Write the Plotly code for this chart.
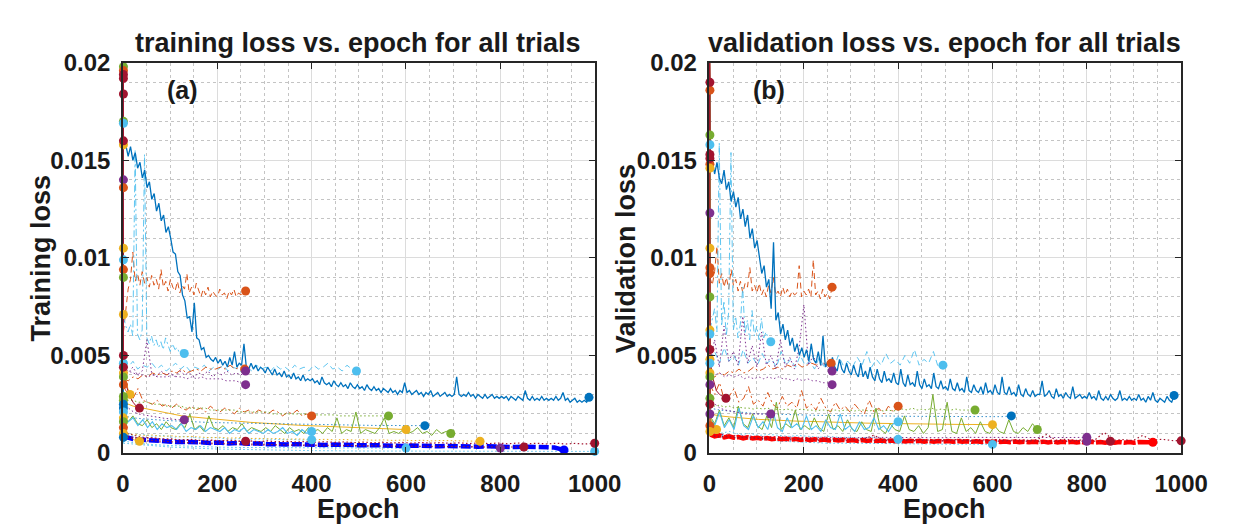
import numpy as np
import plotly.graph_objects as go

W, H = 1241, 532
BLUE, ORANGE, YELLOW, PURPLE = "#0072BD", "#D95319", "#EDB120", "#7E2F8E"
GREEN, CYAN, DRED = "#77AC30", "#4DBEEE", "#A2142F"
PBLUE, PRED = "#0000FF", "#FF0000"

UNIT = 1e-3          # all loss lists below are in units of 1e-3
START_LOSS = 22.0    # first-epoch loss (above the visible range)

x_ticks = [0, 200, 400, 600, 800, 1000]
y_ticks = [0, 5, 10, 15, 20]
y_tick_labels = ["0", "0.005", "0.01", "0.015", "0.02"]

# ======================= TRAINING LOSS (panel a) =======================
tr_blue = [16.0, 15.8, 15.2, 15.7, 15.0, 15.4, 14.6, 14.9, 14.1, 14.5, 13.6, 13.9, 13.0, 13.3, 12.4, 12.8, 11.9, 12.2, 11.3, 11.6,
           11.0, 10.3, 10.2, 9.3, 9.1, 8.1, 7.8, 6.9, 7.0, 6.2, 7.7, 5.9, 5.8, 5.3, 5.4, 4.9, 5.0, 4.8, 4.7, 4.9,
           4.6, 4.8, 4.5, 4.7, 4.4, 4.9, 4.5, 5.2, 4.4, 4.6, 4.5, 5.6, 4.4, 4.3, 4.6, 4.3, 4.5, 4.2, 4.4, 4.3,
           4.1, 4.4, 4.2, 4.0, 4.3, 4.0, 4.1, 3.9, 4.2, 3.9, 4.0, 3.8, 4.1, 3.8, 3.9, 3.7, 4.0, 3.7, 3.8, 3.7,
           3.8, 3.6, 3.7, 3.5, 3.9, 3.6, 3.5, 3.6, 3.4, 3.7, 3.5, 3.4, 3.6, 3.4, 3.5, 3.3, 3.6, 3.4, 3.3, 3.5,
           3.3, 3.4, 3.2, 3.5, 3.3, 3.2, 3.4, 3.2, 3.3, 3.1, 3.3, 3.2, 3.1, 3.3, 3.1, 3.2, 3.0, 3.2, 3.1, 3.6,
           3.1, 3.2, 3.0, 3.1, 3.2, 3.0, 3.1, 2.9, 3.1, 3.0, 3.2, 2.9, 3.0, 3.1, 2.9, 3.0, 3.1, 2.9, 3.0, 2.9,
           3.0, 3.9, 3.0, 2.9, 3.0, 2.9, 3.1, 2.9, 3.0, 2.8, 3.0, 2.9, 2.8, 3.0, 2.8, 2.9, 3.0, 2.8, 2.9, 2.8,
           2.9, 2.8, 2.9, 2.7, 2.9, 2.8, 2.7, 2.9, 2.8, 2.7, 3.2, 2.8, 2.7, 2.9, 2.7, 2.8, 2.7, 2.9, 2.7, 2.8,
           2.7, 2.8, 2.7, 2.9, 2.7, 2.8, 3.1, 2.7, 2.8, 2.6, 2.7, 2.8, 2.6, 2.7, 2.6, 2.7, 2.6, 2.85]
tr_orange_dash = [6.2, 7.5, 8.4, 8.9, 10.3, 8.8, 9.2, 8.6, 9.3, 8.7, 9.0, 8.5, 9.1, 8.6, 8.9, 8.4, 9.4, 8.5, 8.8, 8.3,
                  8.9, 8.5, 8.3, 8.8, 8.2, 8.6, 8.4, 9.2, 8.2, 8.5, 8.1, 8.7, 8.3, 8.0, 8.4, 8.1, 8.5, 8.0, 8.3, 8.1,
                  8.0, 8.4, 8.1, 8.2, 7.9, 8.3, 8.1, 8.4, 8.0, 8.2, 8.1, 8.3, 8.3]
tr_cyan_dashdot = [7.0, 6.5, 6.2, 6.6, 6.0, 15.5, 6.1, 5.8, 6.3, 15.3, 5.9, 5.6, 6.0, 5.5, 5.8, 5.4, 5.7, 5.3, 5.9, 5.5,
                   5.2, 5.6, 5.3, 5.4, 5.1, 5.3, 5.1]
tr_cyan_dash = [4.6, 4.4, 4.7, 4.3, 4.5, 4.4, 4.6, 4.3, 4.5, 4.2, 4.4, 4.6, 4.3, 4.5, 4.2, 4.4, 4.3, 4.5, 4.2, 4.4,
                4.3, 4.5, 4.2, 4.4, 4.3, 4.1, 4.4, 4.2, 4.5, 4.3, 4.4, 4.2, 4.5, 4.3, 4.4, 4.2, 4.5, 4.3, 4.4, 4.2,
                4.5, 4.3, 4.4, 4.6, 4.3, 4.4, 4.2, 4.5, 4.3, 4.2]
tr_orange_dot = [3.8, 3.7, 3.9, 3.8, 4.0, 3.9, 4.1, 4.0, 4.1, 4.0, 4.2, 4.1, 4.3, 4.1, 4.2, 4.3, 4.2, 4.4, 4.3, 4.3,
                 4.4, 4.3, 4.5, 4.3, 4.4, 4.3]
tr_purple_dot = [4.3, 4.1, 4.4, 4.0, 4.2, 5.8, 4.1, 3.9, 4.2, 4.0, 4.1, 3.9, 4.2, 4.0, 4.1, 3.9, 4.1, 4.0, 4.2, 3.9,
                 4.1, 4.0, 4.2, 4.0, 4.1, 4.0, 4.2]
tr_purple_low = [4.4, 4.2, 4.1, 4.0, 4.0, 3.9, 4.0, 3.9, 3.9, 3.9, 4.0, 3.9, 3.9, 3.8, 3.9, 3.8, 3.9, 3.8, 3.8, 3.8,
                 3.8, 3.7, 3.7, 3.7, 3.6, 3.5]
tr_orange_dd = [3.4, 3.0, 2.8, 3.3, 2.7, 2.6, 2.5, 2.7, 2.4, 2.5, 2.3, 2.5, 2.3, 2.2, 2.4, 2.2, 2.3, 2.1, 2.4, 2.2,
                2.1, 2.3, 2.2, 2.0, 2.3, 2.1, 2.2, 2.0, 2.2, 2.1, 2.0, 2.2, 2.1, 1.9, 2.1, 2.0, 2.2, 1.9, 2.0, 1.9]
tr_green_dot = [2.8, 2.7, 2.7, 2.6, 2.6, 2.6, 2.5, 2.5, 2.5, 2.4, 2.4, 2.4, 2.4, 2.3, 2.3, 2.3, 2.3, 2.3, 2.2, 2.2,
                2.2, 2.2, 2.2, 2.2, 2.1, 2.1, 2.1, 2.1, 2.1, 2.1, 2.1, 2.0, 2.0, 2.0, 2.0, 2.0, 2.0, 2.0, 2.0, 2.0,
                1.95, 1.95, 1.95, 1.95, 1.95, 1.9, 1.9, 1.9, 1.9, 1.9, 1.9, 1.9, 1.9, 1.9, 1.9, 1.9]
tr_yellow_solid = [2.6, 2.4, 2.3, 2.2, 2.1, 2.0, 1.9, 1.85, 1.8, 1.75, 1.7, 1.65, 1.6, 1.57, 1.54, 1.5, 1.47, 1.45,
                   1.42, 1.4, 1.38, 1.36, 1.34, 1.32, 1.3, 1.28, 1.26, 1.24, 1.22, 1.2]
tr_green_solid = [1.8, 1.6, 1.9, 1.5, 1.4, 1.7, 1.3, 1.5, 1.2, 1.6, 1.3, 1.2, 1.5, 1.3, 2.0, 1.2, 1.4, 1.1, 1.9, 1.3,
                  1.2, 1.4, 1.1, 1.3, 1.2, 1.5, 1.1, 1.3, 1.2, 1.1, 1.3, 1.1, 1.4, 1.2, 1.0, 1.3, 1.1, 1.2, 1.0, 1.3,
                  1.1, 1.2, 1.0, 1.3, 1.1, 1.8, 1.0, 1.2, 1.1, 2.1, 1.0, 1.2, 1.1, 1.0, 1.3, 1.8, 1.0, 1.1, 1.0, 1.2,
                  1.0, 1.1, 1.3, 1.0, 1.1, 0.9, 1.2, 1.0, 1.1, 1.0]
tr_cyan_solid = [1.9, 1.6, 1.8, 1.4, 1.7, 1.3, 1.6, 1.2, 1.5, 1.3, 1.4, 1.2, 1.5, 1.1, 1.3, 1.2, 1.4, 1.1, 1.3, 1.2,
                 1.1, 1.3, 1.0, 1.2, 1.1, 1.3, 1.0, 1.2, 1.1, 1.0, 1.2, 1.0, 1.1, 1.3, 1.0, 1.1, 0.9, 1.2, 1.0, 1.1]
tr_cyan_dot = [1.0, 0.9, 0.95, 0.85, 0.9, 0.8, 0.85, 0.8, 0.75, 0.8, 0.75, 0.7, 0.75, 0.7, 0.72, 0.7, 0.68, 0.7,
               0.66, 0.68]
tr_blue_dot = [1.9, 1.8, 1.75, 1.7, 1.68, 1.65, 1.62, 1.6, 1.58, 1.56, 1.55, 1.54, 1.52, 1.5, 1.5, 1.49, 1.48, 1.47,
               1.46, 1.45, 1.45, 1.44, 1.43, 1.43, 1.42, 1.42, 1.41, 1.41, 1.4, 1.4, 1.4, 1.4]
tr_yellow_dot = [1.0, 0.95, 0.9, 0.92, 0.85, 0.88, 0.82, 0.85, 0.8, 0.78, 0.8, 0.76, 0.78, 0.74, 0.75, 0.72, 0.74,
                 0.7, 0.72, 0.7, 0.68, 0.7, 0.67, 0.69, 0.66, 0.68, 0.65, 0.67, 0.64, 0.66, 0.63, 0.65, 0.62, 0.64,
                 0.62, 0.63, 0.61, 0.6]
tr_dred_dot = [0.9, 0.8, 0.75, 0.78, 0.7, 0.72, 0.66, 0.7, 0.64, 0.67, 0.62, 0.66, 0.6, 0.63, 0.58, 0.62, 0.57, 0.6,
               0.56, 0.59, 0.55, 0.58, 0.54, 0.57, 0.53, 0.56, 0.52, 0.55, 0.51, 0.54, 0.5, 0.54, 0.5, 0.53, 0.49,
               0.52, 0.48, 0.52, 0.48, 0.51, 0.47, 0.51, 0.47, 0.5, 0.46, 0.5, 0.46, 0.49, 0.46, 0.5]
tr_dred_850 = [0.8, 0.65, 0.58, 0.52, 0.5, 0.46, 0.44, 0.42, 0.4, 0.38, 0.37, 0.36, 0.35, 0.34, 0.33, 0.32, 0.31, 0.3]
tr_purple_800 = [0.8, 0.6, 0.52, 0.48, 0.45, 0.42, 0.4, 0.38, 0.37, 0.35, 0.34, 0.33, 0.32, 0.31, 0.3, 0.3, 0.25]
tr_cyan_600 = [0.6, 0.45, 0.38, 0.33, 0.3, 0.28, 0.27, 0.26, 0.25, 0.25, 0.25, 0.25, 0.25]
tr_cyan_1000 = [0.5, 0.3, 0.2, 0.15, 0.12, 0.1, 0.1, 0.1, 0.1, 0.1, 0.08]
tr_yellow_15 = [5.0, 3.8, 3.3, 3.0]
tr_dred_35 = [4.5, 3.4, 2.9, 2.6, 2.4, 2.3]
tr_purple_130 = [2.6, 2.3, 2.1, 2.0, 1.95, 1.9, 1.85, 1.8, 1.78, 1.75, 1.72, 1.7, 1.7]
tr_yellow_35 = [1.2, 0.9, 0.75, 0.68, 0.63, 0.6]
tr_dred_260 = [1.1, 0.9, 0.8, 0.75, 0.7, 0.68, 0.66, 0.65, 0.64, 0.63, 0.62, 0.61, 0.6]
tr_blue_thick = [0.85, 0.72, 0.68, 0.62, 0.61, 0.57, 0.57, 0.54, 0.55, 0.51, 0.53, 0.49, 0.51, 0.47, 0.49, 0.45,
                 0.47, 0.44, 0.45, 0.43, 0.44, 0.41, 0.43, 0.4, 0.41, 0.39, 0.4, 0.37, 0.39, 0.36, 0.38, 0.35, 0.37,
                 0.34, 0.36, 0.33, 0.35, 0.32, 0.34, 0.31, 0.33, 0.3, 0.32, 0.29, 0.31, 0.28, 0.15]
# trials that stopped after the first epoch (value at epoch 1)
tr_short_colors = [GREEN, ORANGE, GREEN, CYAN, YELLOW, PURPLE, ORANGE, YELLOW, CYAN, ORANGE, GREEN, YELLOW,
                   CYAN, YELLOW, GREEN, ORANGE, GREEN, GREEN, BLUE, BLUE, CYAN, YELLOW, GREEN, ORANGE, YELLOW,
                   BLUE, DRED, DRED, DRED, DRED, DRED, DRED]
tr_short_values = [19.8, 19.6, 17.0, 16.9, 15.8, 14.0, 13.6, 10.5, 9.9, 9.4, 9.0, 7.1,
                   4.6, 4.1, 3.9, 3.5, 2.9, 2.7, 2.5, 2.3, 2.1, 1.8, 1.6, 1.3, 1.0,
                   0.8, 19.4, 19.2, 18.4, 16.0, 5.0, 4.4]

# ======================= VALIDATION LOSS (panel b) =======================
va_blue = [14.6, 15.0, 14.3, 14.9, 14.1, 13.8, 14.5, 13.5, 13.9, 12.9, 13.4, 12.6, 13.1, 12.0, 12.5, 11.6, 12.2, 11.0, 11.5, 10.5,
           10.9, 10.0, 9.2, 9.6, 8.5, 8.9, 7.4, 10.8, 6.8, 7.2, 6.1, 6.6, 5.8, 6.3, 5.5, 5.9, 5.2, 5.6, 5.0, 5.4,
           4.9, 5.3, 4.7, 5.6, 4.8, 4.6, 5.2, 4.5, 6.0, 4.4, 4.7, 4.3, 4.9, 4.4, 4.2, 4.8, 4.3, 4.1, 4.6, 4.2,
           4.0, 4.5, 4.1, 3.9, 4.6, 3.9, 4.2, 3.8, 4.4, 3.9, 3.7, 4.3, 3.8, 3.6, 4.2, 3.7, 3.8, 3.6, 4.1, 3.6,
           3.5, 4.3, 3.6, 3.4, 4.0, 3.5, 3.6, 3.4, 4.2, 3.5, 3.3, 3.8, 3.4, 3.5, 3.3, 4.1, 3.4, 3.3, 3.7, 3.3,
           3.4, 3.2, 3.8, 3.3, 3.2, 3.6, 3.2, 3.3, 3.1, 3.9, 3.2, 3.1, 3.5, 3.2, 3.1, 3.4, 3.0, 3.6, 3.1, 3.2,
           3.0, 3.5, 3.1, 3.0, 3.9, 3.1, 3.0, 3.4, 3.0, 3.1, 2.9, 3.5, 3.0, 2.9, 3.3, 3.0, 2.9, 3.2, 2.9, 3.0,
           3.0, 3.7, 2.9, 3.0, 3.2, 2.9, 2.8, 3.3, 2.9, 3.0, 2.8, 3.1, 2.9, 2.8, 3.4, 2.8, 2.9, 3.0, 2.8, 2.9,
           2.8, 3.1, 2.8, 2.9, 2.7, 3.2, 2.8, 2.7, 2.9, 2.7, 3.0, 2.8, 2.7, 2.8, 3.2, 2.7, 2.8, 2.7, 2.9, 2.7,
           2.8, 2.7, 3.0, 2.7, 2.8, 2.6, 2.9, 2.7, 3.1, 2.7, 2.6, 2.8, 2.7, 2.6, 2.9, 2.7, 2.6, 2.95]
va_orange_dash = [9.0, 8.6, 9.3, 10.6, 8.7, 9.2, 8.5, 9.0, 8.4, 9.4, 8.6, 8.9, 8.3, 8.8, 8.2, 8.7, 8.5, 9.5, 8.3, 8.6,
                  8.2, 8.7, 8.1, 8.4, 8.0, 8.6, 8.2, 9.0, 8.1, 8.3, 8.0, 8.5, 8.1, 8.4, 8.0, 8.3, 8.1, 8.2, 9.6, 8.0,
                  8.3, 8.1, 8.4, 8.0, 9.9, 8.1, 8.3, 7.9, 8.4, 8.0, 8.2, 7.9, 8.5]
va_cyan_dashdot = [6.3, 6.8, 7.4, 6.2, 15.9, 6.5, 7.8, 6.0, 7.2, 15.4, 6.3, 7.0, 5.9, 6.6, 8.5, 6.1, 6.8, 5.8, 7.3,
                   6.0, 6.5, 5.8, 6.9, 5.9, 6.2, 5.8, 5.7]
va_cyan_dash = [4.8, 5.2, 4.6, 5.4, 4.7, 5.0, 4.5, 5.3, 4.6, 4.9, 4.5, 5.1, 4.6, 4.8, 4.4, 5.2, 4.5, 4.8, 4.4, 5.0,
                4.5, 4.7, 4.3, 4.9, 4.4, 4.6, 4.3, 5.0, 4.5, 4.7, 4.4, 4.9, 4.5, 5.2, 4.4, 4.8, 4.5, 5.1, 4.6, 4.8,
                4.5, 5.0, 4.6, 5.3, 4.5, 4.8, 4.6, 5.2, 4.4, 4.5]
va_orange_dot = [4.0, 3.9, 4.1, 4.0, 4.2, 4.1, 4.3, 4.1, 4.2, 4.4, 4.2, 4.3, 4.5, 4.3, 4.4, 4.3, 4.5, 4.4, 4.6, 4.4,
                 4.5, 4.6, 4.5, 4.7, 4.5, 4.6]
va_purple_dot = [4.6, 5.8, 4.4, 6.5, 4.7, 5.2, 4.5, 7.0, 4.6, 5.5, 4.4, 6.2, 4.5, 5.0, 4.3, 5.8, 4.4, 4.9, 4.3, 5.4,
                 7.6, 4.5, 5.0, 4.3, 4.6, 4.4, 4.2]
va_purple_low = [4.2, 4.0, 4.1, 3.9, 4.0, 3.9, 4.0, 3.8, 3.9, 3.8, 3.9, 3.8, 3.9, 3.8, 3.9, 3.8, 3.8, 3.7, 3.8, 3.7,
                 3.8, 3.7, 3.7, 3.6, 3.6, 3.5]
va_orange_dd = [3.5, 3.0, 3.6, 2.7, 2.9, 3.3, 2.6, 2.8, 3.4, 2.5, 2.7, 2.4, 3.1, 2.5, 2.3, 2.9, 2.4, 2.6, 2.3, 3.2,
                2.3, 2.5, 2.2, 2.8, 2.3, 2.1, 2.6, 2.2, 2.4, 2.1, 2.5, 2.2, 2.0, 2.7, 2.1, 2.3, 2.0, 2.4, 2.1, 2.4]
va_green_dot = [2.5, 2.4, 2.45, 2.35, 2.4, 2.3, 2.35, 2.3, 2.3, 2.25, 2.3, 2.25, 2.3, 2.2, 2.25, 2.2, 2.25, 2.2, 2.2,
                2.25, 2.2, 2.2, 2.15, 2.2, 2.2, 2.15, 2.2, 2.15, 2.2, 2.2, 2.15, 2.2, 2.2, 2.15, 2.2, 2.2, 2.15, 2.2,
                2.15, 2.2, 2.25, 2.2, 2.3, 2.2, 2.25, 2.2, 2.3, 2.2, 2.25, 2.2, 2.2, 2.25, 2.2, 2.2, 2.2, 2.2]
va_yellow_solid = [2.0, 1.9, 1.85, 1.8, 1.75, 1.72, 1.7, 1.67, 1.65, 1.63, 1.62, 1.6, 1.58, 1.57, 1.55, 1.54, 1.53,
                   1.52, 1.51, 1.5, 1.5, 1.49, 1.48, 1.48, 1.47, 1.47, 1.46, 1.46, 1.45, 1.45]
va_green_solid = [1.9, 1.5, 2.2, 1.4, 1.8, 1.3, 2.4, 1.5, 1.3, 2.0, 1.4, 1.2, 1.9, 1.3, 2.6, 1.2, 1.5, 1.3, 2.2, 1.2,
                  1.4, 1.2, 1.8, 1.3, 1.1, 2.0, 1.2, 1.4, 1.1, 1.7, 1.2, 1.1, 1.6, 1.2, 1.1, 2.3, 1.2, 1.0, 1.5, 1.2,
                  1.1, 1.9, 1.2, 1.1, 1.4, 1.0, 1.3, 3.0, 1.1, 1.2, 2.6, 1.1, 1.0, 1.8, 1.1, 1.3, 1.0, 1.6, 1.1, 1.0,
                  1.4, 1.1, 1.0, 1.7, 1.1, 1.0, 1.3, 1.1, 1.5, 1.2]
va_cyan_solid = [1.8, 1.4, 2.1, 1.3, 1.7, 1.2, 2.3, 1.4, 1.2, 1.9, 1.3, 1.6, 1.2, 2.2, 1.3, 1.1, 1.8, 1.3, 1.5, 1.2,
                 1.9, 1.2, 1.4, 1.1, 1.7, 1.3, 1.2, 2.0, 1.2, 1.4, 1.1, 1.6, 1.2, 1.3, 1.8, 1.2, 1.4, 1.1, 1.5, 1.6]
va_cyan_dot = [1.2, 1.0, 1.1, 0.95, 1.0, 0.9, 0.95, 0.9, 0.85, 0.9, 0.85, 0.8, 0.85, 0.8, 0.8, 0.75, 0.8, 0.75, 0.75, 0.7]
va_blue_dot = [2.3, 2.2, 2.15, 2.1, 2.05, 2.0, 2.0, 1.98, 1.96, 1.95, 1.94, 1.93, 1.92, 1.92, 1.91, 1.9, 1.9, 1.9,
               1.89, 1.89, 1.88, 1.88, 1.88, 1.87, 1.87, 1.87, 1.87, 1.86, 1.86, 1.86, 1.86, 1.9]
va_dred_dot = [0.9, 0.8, 0.85, 0.78, 0.82, 0.75, 0.8, 0.72, 0.78, 0.7, 0.76, 0.7, 0.74, 0.68, 0.73, 0.68, 0.72, 0.9,
               0.7, 0.67, 0.7, 0.66, 0.7, 0.65, 0.68, 0.66, 0.7, 0.64, 0.68, 0.65, 0.7, 0.64, 0.68, 0.65, 0.67, 0.95,
               0.66, 0.7, 0.64, 0.68, 0.66, 1.05, 0.65, 0.68, 0.64, 0.9, 0.65, 0.7, 0.64, 0.62]
va_dred_850 = [0.9, 0.8, 0.75, 0.7, 0.68, 0.66, 0.65, 0.64, 0.63, 0.62, 0.62, 0.61, 0.61, 0.6, 0.6, 0.6, 0.6, 0.6]
va_purple_800a = [1.0, 0.9, 0.85, 0.82, 0.8, 0.8, 0.78, 0.8, 0.79, 0.8, 0.78, 0.8, 0.79, 0.8, 0.8, 0.79, 0.8]
va_purple_800b = [0.9, 0.75, 0.7, 0.66, 0.64, 0.63, 0.62, 0.62, 0.61, 0.61, 0.6, 0.6, 0.6, 0.6, 0.6, 0.6, 0.6]
va_cyan_600 = [1.0, 0.8, 0.7, 0.6, 0.55, 0.5, 0.5, 0.48, 0.47, 0.46, 0.45, 0.45, 0.44]
va_dred_35 = [4.8, 3.8, 3.2, 3.0, 2.9, 2.8]
va_yellow_15 = [2.0, 1.5, 1.3, 1.2]
va_purple_130 = [2.8, 2.5, 2.3, 2.2, 2.15, 2.1, 2.05, 2.0, 2.0, 2.0, 2.0, 2.0, 2.0]
va_red_thick = [0.95, 0.85, 0.9, 0.8, 0.85, 0.78, 0.82, 0.75, 0.8, 0.74, 0.78, 0.72, 0.76, 0.7, 0.75, 0.7, 0.73, 0.68,
                0.72, 0.67, 0.71, 0.66, 0.7, 0.65, 0.69, 0.64, 0.68, 0.64, 0.67, 0.63, 0.66, 0.62, 0.66, 0.61, 0.65,
                0.61, 0.64, 0.6, 0.64, 0.6, 0.63, 0.59, 0.63, 0.59, 0.62, 0.58, 0.62, 0.58, 0.61, 0.58, 0.61, 0.57,
                0.61, 0.57, 0.6, 0.57, 0.6, 0.56, 0.6, 0.56, 0.59, 0.56, 0.59, 0.55, 0.59, 0.55, 0.58, 0.55, 0.58,
                0.55, 0.58, 0.54, 0.58, 0.54, 0.57, 0.54, 0.57, 0.54, 0.57, 0.53, 0.57, 0.53, 0.56, 0.53, 0.56, 0.53,
                0.56, 0.53, 0.56, 0.52, 0.56, 0.53, 0.55, 0.55]
va_short_colors = [ORANGE, GREEN, CYAN, ORANGE, YELLOW, PURPLE, YELLOW, ORANGE, ORANGE, GREEN, YELLOW, CYAN,
                   YELLOW, CYAN, YELLOW, GREEN, PURPLE, GREEN, PURPLE, ORANGE, YELLOW,
                   DRED, DRED, DRED, DRED, DRED]
va_short_values = [18.6, 16.3, 15.8, 14.8, 14.6, 12.3, 10.5, 9.5, 9.2, 8.0, 6.3, 6.1,
                   4.8, 4.6, 4.1, 3.9, 3.5, 2.8, 2.0, 1.4, 1.1,
                   19.0, 15.3, 15.1, 5.3, 2.5]

DASH = {"solid": "solid", "dash": "6px,4px", "dot": "1.5px,2.5px",
        "dashdot": "7px,3px,2px,3px", "thick": "10px,3px", "thickred": "12px,2px"}

# (final epoch, values, colour, line style, width, first-epoch loss)
train_trials = [
    (260, tr_orange_dash, ORANGE, "dash", 1.0, START_LOSS),
    (130, tr_cyan_dashdot, CYAN, "dashdot", 0.9, START_LOSS),
    (495, tr_cyan_dash, CYAN, "dash", 0.9, START_LOSS),
    (258, tr_orange_dot, ORANGE, "dashdot", 1.0, START_LOSS),
    (260, tr_purple_low, PURPLE, "dot", 0.9, START_LOSS),
    (260, tr_purple_dot, PURPLE, "dot", 1.0, START_LOSS),
    (400, tr_orange_dd, ORANGE, "dashdot", 1.0, START_LOSS),
    (563, tr_green_dot, GREEN, "dot", 1.0, START_LOSS),
    (600, tr_yellow_solid, YELLOW, "solid", 1.0, START_LOSS),
    (640, tr_blue_dot, BLUE, "dot", 0.8, START_LOSS),
    (695, tr_green_solid, GREEN, "solid", 1.0, START_LOSS),
    (400, tr_cyan_solid, CYAN, "solid", 1.1, START_LOSS),
    (400, tr_cyan_dot, CYAN, "dot", 0.9, START_LOSS),
    (757, tr_yellow_dot, YELLOW, "dot", 1.0, START_LOSS),
    (15, tr_yellow_15, YELLOW, "solid", 1.0, START_LOSS),
    (35, tr_dred_35, DRED, "solid", 1.0, START_LOSS),
    (130, tr_purple_130, PURPLE, "dot", 1.0, START_LOSS),
    (35, tr_yellow_35, YELLOW, "solid", 1.0, START_LOSS),
    (260, tr_dred_260, DRED, "dot", 1.0, START_LOSS),
    (600, tr_cyan_600, CYAN, "dot", 1.0, START_LOSS),
    (1000, tr_cyan_1000, CYAN, "dot", 1.0, START_LOSS),
    (800, tr_purple_800, PURPLE, "dot", 1.0, START_LOSS),
    (988, tr_blue, BLUE, "solid", 1.3, START_LOSS),
    (935, tr_blue_thick, PBLUE, "thick", 4.5, tr_blue_thick[0]),
    (1000, tr_dred_dot, DRED, "dot", 1.2, START_LOSS),
    (850, tr_dred_850, DRED, "dot", 1.0, START_LOSS),
]

valid_trials = [
    (260, va_orange_dash, ORANGE, "dash", 1.0, START_LOSS),
    (130, va_cyan_dashdot, CYAN, "dashdot", 0.9, START_LOSS),
    (495, va_cyan_dash, CYAN, "dash", 0.9, START_LOSS),
    (258, va_orange_dot, ORANGE, "dashdot", 1.0, START_LOSS),
    (260, va_purple_low, PURPLE, "dot", 0.9, START_LOSS),
    (260, va_purple_dot, PURPLE, "dot", 1.0, START_LOSS),
    (400, va_orange_dd, ORANGE, "dashdot", 1.0, START_LOSS),
    (563, va_green_dot, GREEN, "dot", 1.0, START_LOSS),
    (600, va_yellow_solid, YELLOW, "solid", 1.0, START_LOSS),
    (640, va_blue_dot, BLUE, "dot", 0.8, START_LOSS),
    (695, va_green_solid, GREEN, "solid", 1.0, START_LOSS),
    (400, va_cyan_solid, CYAN, "solid", 1.1, START_LOSS),
    (400, va_cyan_dot, CYAN, "dot", 0.9, START_LOSS),
    (15, va_yellow_15, YELLOW, "solid", 1.0, START_LOSS),
    (35, va_dred_35, DRED, "solid", 1.0, START_LOSS),
    (130, va_purple_130, PURPLE, "dot", 1.0, START_LOSS),
    (600, va_cyan_600, CYAN, "dot", 1.0, START_LOSS),
    (800, va_purple_800a, PURPLE, "dot", 1.0, START_LOSS),
    (800, va_purple_800b, PURPLE, "dot", 1.0, START_LOSS),
    (985, va_blue, BLUE, "solid", 1.3, START_LOSS),
    (940, va_red_thick, PRED, "thickred", 4.5, va_red_thick[0]),
    (1000, va_dred_dot, DRED, "dot", 1.2, START_LOSS),
    (850, va_dred_850, DRED, "dot", 1.0, START_LOSS),
]

fig = go.Figure()


def add_panel(trials, short_colors, short_values, xa, ya):
    end_x, end_y, end_c = [], [], []
    for end, vals, col, style, width, start in trials:
        # first-epoch segment drawn thin and solid, rest with the trial's style
        xs = list(np.linspace(1, end, len(vals)))
        fig.add_trace(go.Scatter(x=[0, xs[0]], y=[start * UNIT, vals[0] * UNIT], mode="lines",
                                 line=dict(color=col, width=0.8),
                                 xaxis=xa, yaxis=ya, showlegend=False, hoverinfo="skip"))
        fig.add_trace(go.Scatter(x=xs, y=[v * UNIT for v in vals], mode="lines",
                                 line=dict(color=col, width=width, dash=DASH[style]),
                                 xaxis=xa, yaxis=ya, showlegend=False, hoverinfo="skip"))
        end_x.append(end)
        end_y.append(vals[-1])
        end_c.append(col)
    for col, v in zip(short_colors, short_values):
        fig.add_trace(go.Scatter(x=[0, 1], y=[START_LOSS * UNIT, v * UNIT], mode="lines",
                                 line=dict(color=col, width=1.0),
                                 xaxis=xa, yaxis=ya, showlegend=False, hoverinfo="skip"))
        end_x.append(1)
        end_y.append(v)
        end_c.append(col)
    fig.add_trace(go.Scatter(x=end_x, y=[v * UNIT for v in end_y], mode="markers",
                             marker=dict(color=end_c, size=9, line=dict(width=0)),
                             cliponaxis=False, xaxis=xa, yaxis=ya, showlegend=False,
                             hoverinfo="skip"))


add_panel(train_trials, tr_short_colors, tr_short_values, "x", "y")
add_panel(valid_trials, va_short_colors, va_short_values, "x2", "y2")

FONT = "Liberation Sans, Arial, Helvetica, sans-serif"
INK = "#1a1a1a"


def px_x(p):
    return p / W


def px_y(p):
    return 1 - p / H


axis_common = dict(
    showline=True, linecolor="#262626", linewidth=1.5, mirror="ticks",
    ticks="inside", ticklen=6, tickwidth=1.3, tickcolor="#262626",
    showgrid=True, gridcolor="#dcdcdc", gridwidth=1, zeroline=False,
    tickfont=dict(family=FONT, size=24, color=INK, weight="bold"),
)
x_common = dict(axis_common, range=[0, 1000], tickvals=x_ticks, ticklabelstandoff=8,
                minor=dict(dtick=50, tick0=0, showgrid=True, gridcolor="#c4c4c4",
                           griddash="dot", gridwidth=1, ticks=""))
y_common = dict(axis_common, range=[0, 0.02], tickvals=[v * UNIT for v in y_ticks],
                ticktext=y_tick_labels, ticklabelstandoff=6,
                minor=dict(dtick=0.001, tick0=0, showgrid=True, gridcolor="#c4c4c4",
                           griddash="dot", gridwidth=1, ticks=""))

ydom = [1 - 454 / H, 1 - 43 / H]
fig.update_layout(
    width=W, height=H, margin=dict(l=0, r=0, t=0, b=0),
    paper_bgcolor="white", plot_bgcolor="white", showlegend=False,
    xaxis=dict(x_common, domain=[111 / W, 596 / W], anchor="y"),
    yaxis=dict(y_common, domain=ydom, anchor="x"),
    xaxis2=dict(x_common, domain=[714 / W, 1199 / W], anchor="y2"),
    yaxis2=dict(y_common, domain=ydom, anchor="x2"),
)

texts = [
    ("training loss vs. epoch for all trials", 353, 22, 27, 0),
    ("validation loss vs. epoch for all trials", 956, 22, 27, 0),
    ("Epoch", 353, 513, 27, 0),
    ("Epoch", 956, 513, 27, 0),
    ("Training loss", 27, 249, 27, -90),
    ("Validation loss", 629, 249, 27, -90),
    ("(a)", 172, 72, 25, 0),
    ("(b)", 775, 72, 25, 0),
]
for t, x, y, s, ang in texts:
    fig.add_annotation(text=t, x=px_x(x), y=px_y(y), xref="paper", yref="paper",
                       xanchor="center", yanchor="middle", showarrow=False, textangle=ang,
                       font=dict(family=FONT, size=s, color=INK, weight="bold"))

fig.write_html("out.html")
